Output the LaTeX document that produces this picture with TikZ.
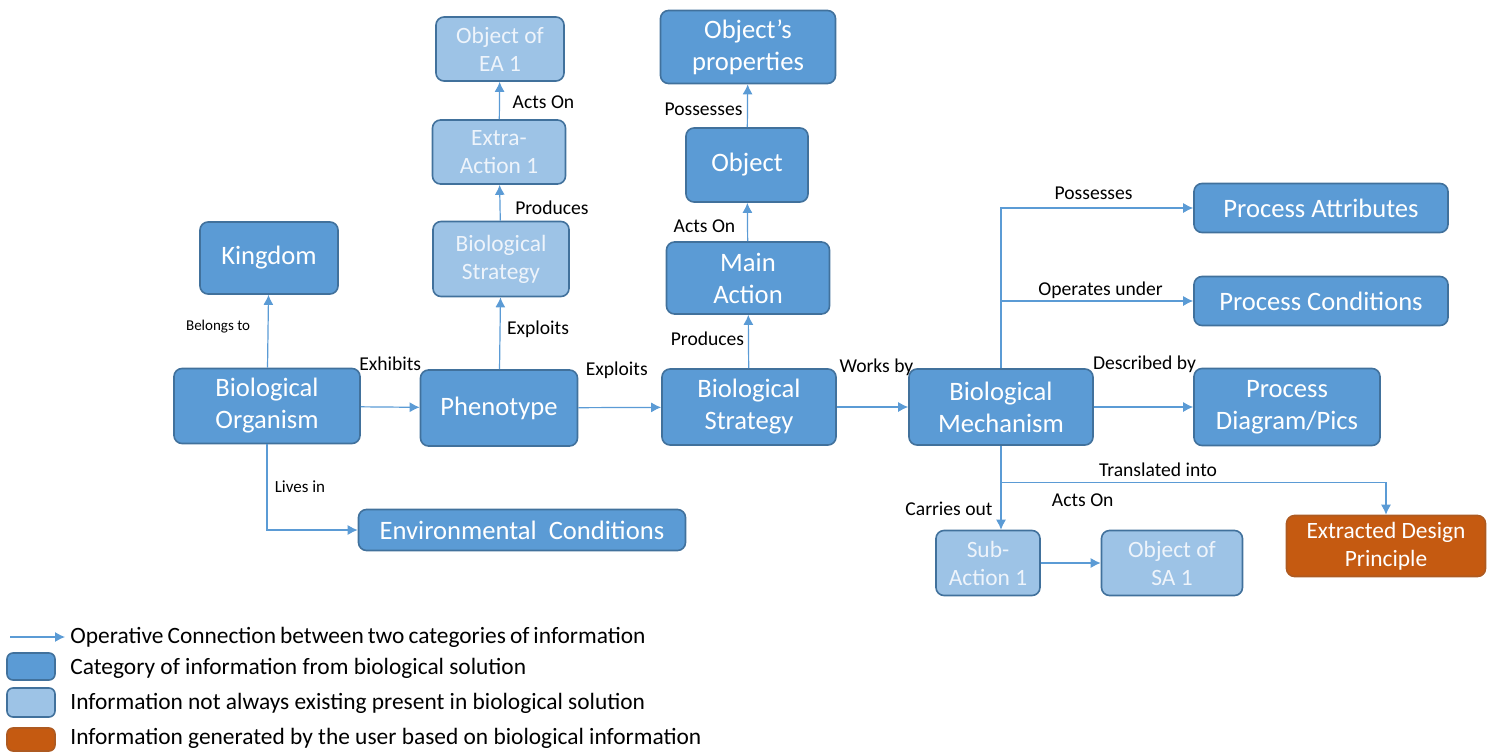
\documentclass[tikz,border=0pt]{standalone}
\usepackage{fontspec}
\setmainfont{Carlito}
\usetikzlibrary{arrows.meta,positioning,calc}
\definecolor{catblue}{HTML}{5B9BD5}
\definecolor{catedge}{HTML}{41719C}
\definecolor{optblue}{HTML}{9DC3E6}
\definecolor{opttext}{HTML}{EEF4FB}
\definecolor{usrorange}{HTML}{C55A11}
\definecolor{usredge}{HTML}{AE5A21}
\definecolor{linkblue}{HTML}{5B9BD5}

\begin{document}
\begin{tikzpicture}[x=0.5pt,y=-0.5pt,
     cat/.style = {draw=catedge, fill=catblue, rounded corners=4pt, line width=0.8pt,
      text=white, align=center, inner sep=0pt, font=\fontsize{13.3}{16}\selectfont},
     opt/.style = {cat, fill=optblue, text=opttext, font=\fontsize{11.7}{14}\selectfont},
     usr/.style = {cat, draw=usredge, fill=usrorange, font=\fontsize{11.7}{14}\selectfont},
     link/.style = {draw=linkblue, line width=0.6pt, -{Latex[length=5pt,width=5pt]}},
     lbl/.style = {font=\fontsize{9.8}{11}\selectfont, inner sep=1pt},
     smalllbl/.style = {lbl, font=\fontsize{7.5}{9}\selectfont},
     legtext/.style = {anchor=west, inner sep=0pt, font=\fontsize{11.7}{13}\selectfont}
    ]
    \useasboundingbox (0,0) rectangle (1490,751);

    % main row
    \node [cat, minimum width=93pt, minimum height=37.5pt] (org) at (267,406) {Biological\\Organism};
    \node [cat, minimum width=78.5pt, minimum height=38pt] (phen) at (499,408) {Phenotype};
    \node [cat, minimum width=87pt, minimum height=38pt] (strat) at (749,407) {Biological\\Strategy};
    \node [cat, minimum width=92pt, minimum height=38pt] (mech) at (1001,407) {Biological\\Mechanism};

    % upper branches
    \node [cat, minimum width=69pt, minimum height=36pt] (king) at (269,258) {Kingdom};
    \node [opt, minimum width=68pt, minimum height=37.5pt] (xstrat) at (501,259) {Biological\\Strategy};
    \node [opt, minimum width=66.5pt, minimum height=32pt] (xact) at (499,152) {Extra-\\Action 1};
    \node [opt, minimum width=64pt, minimum height=32pt] (xobj) at (500,49) {Object of\\EA 1};
    \node [cat, minimum width=81.5pt, minimum height=36pt] (mact) at (748,278) {Main\\Action};
    \node [cat, minimum width=61pt, minimum height=37pt] (obj) at (747,165) {Object};
    \node [cat, minimum width=87.5pt, minimum height=36.5pt] (prop) at (748,47) {Object’s\\properties};

    % mechanism outputs
    \node [cat, minimum width=127pt, minimum height=24.5pt] (attr) at (1321,208) {Process Attributes};
    \node [cat, minimum width=127pt, minimum height=24.5pt] (cond) at (1321,301) {Process Conditions};
    \node [cat, minimum width=93pt, minimum height=38.5pt] (diag) at (1287,407) {Process\\Diagram/Pics};
    \node [opt, minimum width=52pt, minimum height=32.5pt] (sub) at (988,563) {Sub-\\Action 1};
    \node [opt, minimum width=70.5pt, minimum height=32.5pt] (subobj) at (1172,563) {Object of\\SA 1};
    \node [usr, minimum width=99.5pt, minimum height=30.5pt] (edp) at (1386,546) {Extracted Design\\Principle};

    % lower branch
    \node [cat, minimum width=163.5pt, minimum height=20.5pt] (env) at (522,530) {Environmental~~Conditions};

    \draw[link] (org) -- node[smalllbl, pos=.56, xshift=-25pt] {Belongs to} (king);
    \draw[link] (org) -- node[lbl, midway, yshift=21.5pt] {Exhibits} (phen);
    \draw[link] (org.south) |- node[lbl, font=\fontsize{8.5}{10}\selectfont, pos=.25, xshift=16.5pt] {Lives in} (env.west);
    \draw[link] (phen) -- node[lbl, midway, xshift=19pt, yshift=2pt] {Exploits} (xstrat);
    \draw[link] (xstrat) -- node[lbl, midway, xshift=26pt, yshift=-2.5pt] {Produces} (xact);
    \draw[link] (xact) -- node[lbl, midway, xshift=22pt, yshift=-0.75pt] {Acts On} (xobj);
    \draw[link] (phen) -- node[lbl, midway, xshift=-1.5pt, yshift=18.5pt] {Exploits} (strat);
    \draw[link] (strat) -- node[lbl, midway, xshift=-20.5pt, yshift=1.25pt] {Produces} (mact);
    \draw[link] (mact) -- node[lbl, midway, xshift=-21.5pt, yshift=-2pt] {Acts On} (obj);
    \draw[link] (obj) -- node[lbl, midway, xshift=-22pt, yshift=-2pt] {Possesses} (prop);
    \draw[link] (strat) -- node[lbl, midway, xshift=2pt, yshift=20pt] {Works by} (mech);
    \draw[link] (mech.north) |- node[lbl, pos=.75, xshift=-1.75pt, yshift=7.5pt] {Possesses} (attr.west);
    \draw[link] (mech.north) |- node[lbl, pos=.75, xshift=1.75pt, yshift=5.5pt] {Operates under} (cond.west);
    \draw[link] (mech) -- node[lbl, midway, xshift=0.5pt, yshift=21.5pt] {Described by} (diag);
    \draw[link] (mech.south) -- node[lbl, midway, xshift=-26pt, yshift=-10.5pt] {Carries out} (mech.south |- sub.north);
    \draw[link] (mech.south) -- ++(0,37) -| node[lbl, pos=.25, xshift=-17.75pt, yshift=6.5pt] {Translated into} (edp.north);
    \draw[link] (sub) -- node[lbl, midway, xshift=6pt, yshift=31.5pt] {Acts On} (subobj);

    % legend
    \coordinate (legA) at (10,637);
    \coordinate (legB) at (65,637);
    \draw[link] (legA) -- (legB);
    \node [legtext] (legt1) at (70,637) {\spaceskip=2pt Operative Connection between two categories of information};
    \node [cat, minimum width=24pt, minimum height=13.5pt, rounded corners=3pt] (legcat) at (31,666.5) {};
    \node [legtext] (legt2) at (70,668) {Category of information from biological solution};
    \node [opt, minimum width=24pt, minimum height=14.5pt, rounded corners=3pt] (legopt) at (31,702.5) {};
    \node [legtext] (legt3) at (70,703) {Information not always existing present in biological solution};
    \node [usr, minimum width=24pt, minimum height=11.5pt, rounded corners=3pt] (legusr) at (31,739.5) {};
    \node [legtext] (legt4) at (70,738) {Information generated by the user based on biological information};
\end{tikzpicture}
\end{document}
